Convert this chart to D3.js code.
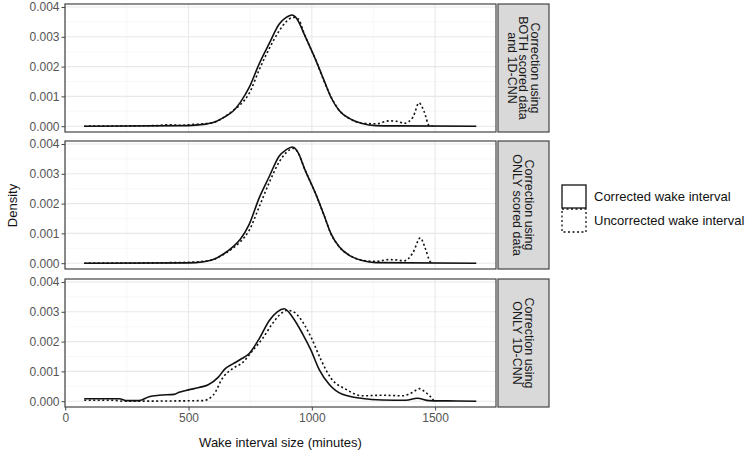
<!DOCTYPE html>
<html><head><meta charset="utf-8">
<script src="https://cdn.jsdelivr.net/npm/d3@7"></script>
<style>body{margin:0;background:#fff}svg{display:block;font-family:Arial,"Liberation Sans",sans-serif}</style>
</head><body><svg id="c" width="750" height="453"></svg>
<script>
// ---- data ----
const panelLabels = [
  ["Correction using","BOTH scored data","and 1D-CNN"],
  ["Correction using","ONLY scored data"],
  ["Correction using","ONLY 1D-CNN"]
];
const seriesNames = ["Corrected wake interval","Uncorrected wake interval"];
const xTicks = [0,500,1000,1500];
const yTicks = [0,0.001,0.002,0.003,0.004];

const bothCorrected = [[77,0],[500,0.00002],[560,0.00006],[600,0.00012],[640,0.00028],[680,0.0005],[710,0.0008],[746,0.0013],[787,0.0021],[827,0.00277],[868,0.00343],[895,0.00364],[919,0.00373],[940,0.0036],[969,0.00309],[1017,0.0022],[1050,0.00153],[1077,0.00098],[1111,0.00053],[1152,0.00026],[1204,0.00009],[1260,0.00002],[1350,0.00001],[1667,0]];
const bothUncorrected = [[77,0],[370,0.00002],[420,0.00005],[470,0.00003],[520,0.00006],[560,0.00008],[600,0.00012],[640,0.00028],[680,0.00052],[710,0.00072],[746,0.0011],[787,0.0019],[827,0.0026],[868,0.0032],[895,0.0035],[925,0.00365],[945,0.0036],[969,0.0031],[1017,0.0022],[1050,0.0015],[1077,0.001],[1111,0.00053],[1152,0.00026],[1204,0.0001],[1260,0.00008],[1314,0.00018],[1340,0.00017],[1375,0.0001],[1410,0.0003],[1435,0.00078],[1455,0.0005],[1476,0.00002],[1490,0]];

const scoredCorrected = [[77,0],[500,0.00001],[560,0.00005],[600,0.00012],[640,0.0003],[680,0.00055],[710,0.0008],[746,0.0013],[787,0.0022],[827,0.0029],[868,0.0036],[895,0.0038],[922,0.0039],[945,0.0037],[969,0.0032],[1017,0.0023],[1050,0.0016],[1077,0.001],[1111,0.00055],[1152,0.00026],[1204,0.00009],[1260,0.00002],[1667,0]];
const scoredUncorrected = [[77,0],[450,0.00002],[500,0.00003],[560,0.00006],[600,0.00012],[640,0.00028],[680,0.0005],[710,0.00072],[746,0.0011],[787,0.0019],[827,0.0027],[868,0.0034],[895,0.0037],[925,0.00385],[945,0.0037],[969,0.0032],[1017,0.0023],[1050,0.0016],[1077,0.001],[1111,0.00055],[1152,0.00027],[1204,0.0001],[1260,0.00006],[1314,0.00012],[1340,0.00011],[1375,0.00008],[1410,0.00035],[1440,0.00085],[1460,0.0005],[1480,0.00005],[1490,0]];

const cnnCorrected = [[77,0.00008],[150,0.00008],[219,0.00008],[250,0.00002],[300,0.00002],[340,0.00015],[381,0.0002],[442,0.00023],[462,0.0003],[500,0.00038],[543,0.00046],[580,0.00055],[620,0.0008],[650,0.0011],[680,0.00125],[710,0.0014],[746,0.0016],[787,0.0021],[827,0.0027],[860,0.003],[888,0.0031],[922,0.00282],[962,0.00227],[996,0.00172],[1030,0.00106],[1071,0.00056],[1124,0.00023],[1206,0.00009],[1286,0.00004],[1381,0.00003],[1428,0.0001],[1476,0.00002],[1550,0.00001],[1667,0]];
const cnnUncorrected = [[77,0.00003],[200,0.00003],[230,0],[560,0.00002],[600,0.0002],[640,0.0008],[680,0.0011],[720,0.0013],[760,0.0017],[800,0.0021],[840,0.0026],[870,0.0029],[900,0.00305],[930,0.00298],[949,0.00282],[996,0.00216],[1037,0.00139],[1077,0.00078],[1138,0.0004],[1206,0.00018],[1287,0.0002],[1367,0.00018],[1410,0.0003],[1436,0.00042],[1460,0.0003],[1476,0.0002],[1496,0]];

const panelData = [[bothCorrected,bothUncorrected],[scoredCorrected,scoredUncorrected],[cnnCorrected,cnnUncorrected]];

// ---- layout ----
const svg = d3.select("#c");
const left = 65, right = 496;
const panelTops = [4, 141, 279];
const panelH = 128;
const stripX = 498, stripW = 51;
const dashes = [null, "2,2.5"];

const x = d3.scaleLinear().domain([-1, 1747]).range([left, right]);

panelData.forEach((series, i) => {
  const top = panelTops[i], bottom = top + panelH;
  const y = d3.scaleLinear().domain([-0.000195, 0.0041]).range([bottom, top]);
  const g = svg.append("g");
  g.append("rect").attr("x", left).attr("y", top).attr("width", right-left).attr("height", panelH).attr("fill", "#fff");
  const xm = [250,750,1250], ym = [0.0005,0.0015,0.0025,0.0035];
  g.selectAll(".xm").data(xm).join("line").attr("x1", d=>x(d)).attr("x2", d=>x(d)).attr("y1", top).attr("y2", bottom).attr("stroke", "#f4f4f4").attr("stroke-width", 0.6);
  g.selectAll(".ym").data(ym).join("line").attr("y1", d=>y(d)).attr("y2", d=>y(d)).attr("x1", left).attr("x2", right).attr("stroke", "#f4f4f4").attr("stroke-width", 0.6);
  g.selectAll(".xg").data(xTicks).join("line").attr("x1", d=>x(d)).attr("x2", d=>x(d)).attr("y1", top).attr("y2", bottom).attr("stroke", "#e8e8e8").attr("stroke-width", 1.1);
  g.selectAll(".yg").data(yTicks).join("line").attr("y1", d=>y(d)).attr("y2", d=>y(d)).attr("x1", left).attr("x2", right).attr("stroke", "#e8e8e8").attr("stroke-width", 1.1);
  const line = d3.line().x(d=>x(d[0])).y(d=>y(d[1])).curve(d3.curveMonotoneX);
  series.forEach((s, j) => {
    g.append("path").datum(s).attr("d", line).attr("fill", "none").attr("stroke", "#111")
      .attr("stroke-width", 1.6).attr("stroke-dasharray", dashes[j]);
  });
  g.append("rect").attr("x", left).attr("y", top).attr("width", right-left).attr("height", panelH).attr("fill", "none").attr("stroke", "#444").attr("stroke-width", 1.2);
  const ya = g.append("g").attr("transform", `translate(${left},0)`)
    .call(d3.axisLeft(y).tickValues(yTicks).tickFormat(d3.format(".3f")).tickSize(3.5).tickPadding(2));
  ya.select(".domain").remove();
  ya.selectAll(".tick line").attr("stroke", "#444");
  ya.selectAll(".tick text").attr("fill", "#555").attr("font-size", "12px").attr("font-family", "Arial, 'Liberation Sans', sans-serif");
  if (i === panelData.length - 1) {
    const xa = g.append("g").attr("transform", `translate(0,${bottom})`)
      .call(d3.axisBottom(x).tickValues(xTicks).tickFormat(d3.format("d")).tickSize(3.5).tickPadding(3));
    xa.select(".domain").remove();
    xa.selectAll(".tick line").attr("stroke", "#444");
    xa.selectAll(".tick text").attr("fill", "#555").attr("font-size", "12px").attr("font-family", "Arial, 'Liberation Sans', sans-serif");
  }
  g.append("rect").attr("x", stripX).attr("y", top).attr("width", stripW).attr("height", panelH).attr("fill", "#d9d9d9").attr("stroke", "#444").attr("stroke-width", 1.2);
  const lines = panelLabels[i];
  const cx = stripX + stripW/2, cy = top + panelH/2;
  const lh = 11.5;
  const t = g.append("text").attr("transform", `translate(${cx},${cy}) rotate(90)`)
    .attr("text-anchor", "middle").attr("font-size", "12.5px").attr("fill", "#1a1a1a");
  lines.forEach((l, k) => {
    const off = (k - (lines.length-1)/2) * lh;
    t.append("tspan").attr("x", 0).attr("y", off + 4.5).text(l);
  });
});

svg.append("text").attr("x", (left+right)/2).attr("y", 447).attr("text-anchor", "middle").attr("font-size", "13px").attr("fill", "#111").text("Wake interval size (minutes)");
svg.append("text").attr("transform", `translate(17,${(panelTops[0]+panelTops[2]+panelH)/2}) rotate(-90)`).attr("text-anchor", "middle").attr("font-size", "13px").attr("fill", "#111").text("Density");

const lg = svg.append("g");
seriesNames.forEach((n, j) => {
  const ky = 185 + j*24;
  lg.append("rect").attr("x", 562).attr("y", ky).attr("width", 24).attr("height", 23).attr("fill", "#fff")
    .attr("stroke", "#111").attr("stroke-width", 1.3).attr("stroke-dasharray", dashes[j]);
  lg.append("text").attr("x", 594).attr("y", ky + 16).attr("font-size", "13px").attr("fill", "#111").text(n);
});
</script></body></html>
